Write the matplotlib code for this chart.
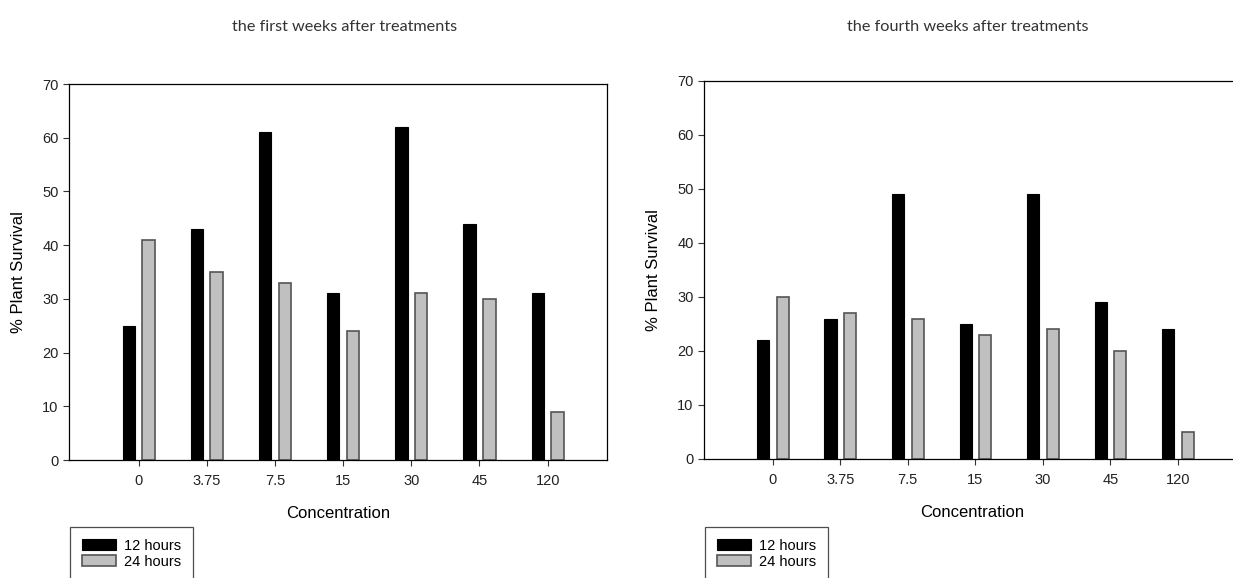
import numpy as np
import matplotlib
matplotlib.use("Agg")
import matplotlib.pyplot as plt

plt.rcParams['font.family'] = ['Liberation Sans', 'DejaVu Sans']

# data
concentrations = ['0', '3.75', '7.5', '15', '30', '45', '120']
week1_12h = [25, 43, 61, 31, 62, 44, 31]
week1_24h = [41, 35, 33, 24, 31, 30, 9]
week4_12h = [22, 26, 49, 25, 49, 29, 24]
week4_24h = [30, 27, 26, 23, 24, 20, 5]
titles = ['the first weeks after treatments', 'the fourth weeks after treatments']
title_x = [345, 968]

W, H = 1233, 578
fig = plt.figure(figsize=(W / 100, H / 100), dpi=100)

# axes boxes in pixels: left, top, right, bottom
boxes = [(69, 84, 607, 460), (704, 81, 1240, 459)]
xlims = [(-1.02, 6.87), (-1.02, 6.92)]
series = [(week1_12h, week1_24h), (week4_12h, week4_24h)]

x = np.arange(len(concentrations))
for (l, t, r, b), xl, (s12, s24), title, tx in zip(boxes, xlims, series, titles, title_x):
    ax = fig.add_axes([l / W, 1 - b / H, (r - l) / W, (b - t) / H])
    ax.bar(x - 0.145, s12, width=0.18, color='black', edgecolor='black', linewidth=0.8, label='12 hours')
    ax.bar(x + 0.145, s24, width=0.18, color='#c0c0c0', edgecolor='#555555', linewidth=1.2, label='24 hours')
    ax.set_xlim(*xl)
    ax.set_ylim(0, 70)
    ax.set_yticks(range(0, 71, 10))
    ax.set_xticks(x)
    ax.set_xticklabels(concentrations)
    ax.tick_params(axis='both', labelsize=10.5, length=4, width=0.8, color='#333333', labelcolor='#222222')
    ax.tick_params(axis='x', pad=6)
    for sp in ax.spines.values():
        sp.set_linewidth(0.9)
    ax.set_xlabel('Concentration', fontsize=12, labelpad=13)
    ax.set_ylabel('% Plant Survival', fontsize=12, labelpad=12)
    fig.text(tx / W, 1 - 27 / H, title, ha='center', va='center', fontsize=11.7,
             family=['Lato', 'DejaVu Sans'], color='#333333')
    leg = ax.legend(loc='upper left', bbox_to_anchor=((l + 1) / W, 1 - 527 / H),
                    bbox_transform=fig.transFigure, frameon=True, fancybox=False,
                    edgecolor='#222222', fontsize=10.5, handlelength=2.35, handleheight=0.8,
                    labelspacing=0.15, borderpad=0.8, borderaxespad=0, handletextpad=0.55)
    leg.get_frame().set_linewidth(0.9)

fig.savefig('out.png', dpi=100)
